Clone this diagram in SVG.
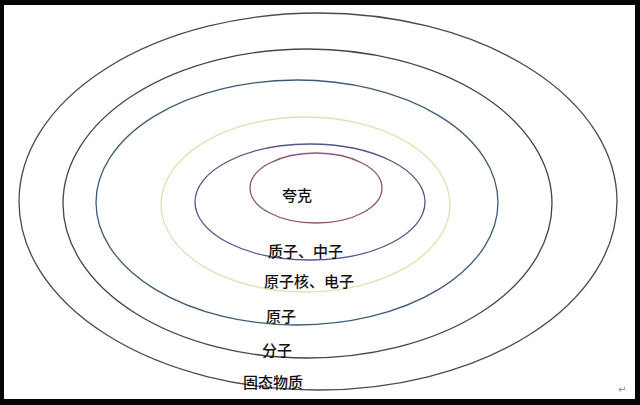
<svg xmlns="http://www.w3.org/2000/svg" width="640" height="405" viewBox="0 0 640 405">
  <style>
    .ring { fill: none; stroke-width: 1.3; }
    .lbl { font-family: "Noto Sans CJK SC", "Noto Sans CJK JP", sans-serif; font-size: 15px; font-weight: 500; fill: #111111; }
  </style>
  <rect x="0" y="0" width="640" height="405" fill="#050505"/>
  <rect x="4" y="5" width="631" height="394" fill="#ffffff"/>
  <g id="solid">
    <ellipse class="ring" cx="318" cy="201.5" rx="299" ry="188.5" stroke="#4a4a4a"/>
    <text class="lbl" x="243" y="388">固态物质</text>
  </g>
  <g id="molecule">
    <ellipse class="ring" cx="307.5" cy="203.5" rx="244.5" ry="154.5" stroke="#454545"/>
    <text class="lbl" x="262" y="356">分子</text>
  </g>
  <g id="atom">
    <ellipse class="ring" cx="297" cy="202.5" rx="201" ry="122.5" stroke="#3f5a78"/>
    <text class="lbl" x="266" y="322">原子</text>
  </g>
  <g id="nucleus-electron">
    <ellipse class="ring" cx="305.5" cy="204.5" rx="144.5" ry="87.5" stroke="#eadcb2"/>
    <text class="lbl" x="264" y="287">原子核、电子</text>
  </g>
  <g id="proton-neutron">
    <ellipse class="ring" cx="310" cy="202" rx="115" ry="58" stroke="#55558a"/>
    <text class="lbl" x="268" y="257">质子、中子</text>
  </g>
  <g id="quark">
    <ellipse class="ring" cx="316" cy="188" rx="66" ry="35" stroke="#8e5672"/>
    <text class="lbl" x="282" y="201">夸克</text>
  </g>
  <text x="618" y="393" font-family="DejaVu Sans, sans-serif" font-size="10" fill="#8a8a8a">↵</text>
</svg>
